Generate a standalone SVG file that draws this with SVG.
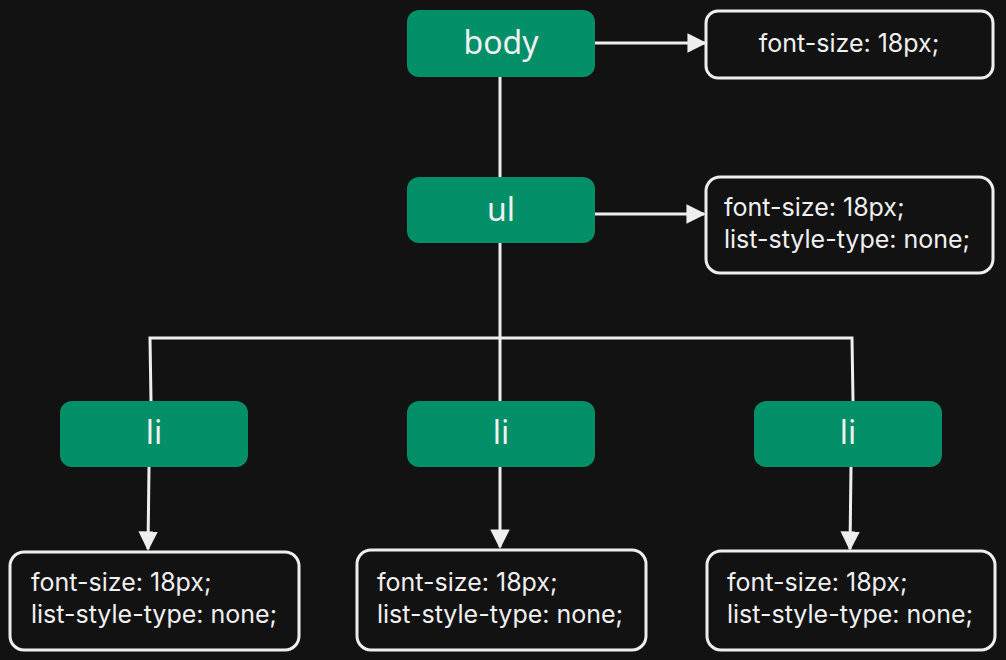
<svg xmlns="http://www.w3.org/2000/svg" width="1006" height="660" viewBox="0 0 1006 660">
<defs>
<style>
.node rect{fill:#038f67;}
.node text{fill:#f0f0f0;font-family:"Noto Sans","Noto Sans CJK KR",sans-serif;font-size:32px;text-anchor:middle;}
.prop rect{fill:#121212;stroke:#eeeeee;stroke-width:3;}
.prop text{fill:#f0f0f0;font-family:Inter,"Noto Sans",sans-serif;font-size:25px;}
.edges path{fill:none;stroke:#eeeeee;stroke-width:3;}
</style>
<marker id="arr" viewBox="0 0 10 10" refX="9" refY="5" markerWidth="6.5" markerHeight="6.5" markerUnits="strokeWidth" orient="auto">
<path d="M0,0 L10,5 L0,10 z" fill="#eeeeee"/>
</marker>
</defs>
<rect width="1006" height="660" fill="#121212"/>
<g class="edges">
<path d="M595,43 H705" marker-end="url(#arr)"/>
<path d="M500,77 V177"/>
<path d="M595,214 H704" marker-end="url(#arr)"/>
<path d="M500,243 V401"/>
<path d="M151,401 L150,338 H852 L853,401"/>
<path d="M149,467 L148,549" marker-end="url(#arr)"/>
<path d="M500,467 V547" marker-end="url(#arr)"/>
<path d="M851,467 L850,549" marker-end="url(#arr)"/>
</g>
<g id="body" class="node"><rect x="407" y="10" width="188" height="67" rx="12"/><text x="501" y="54">body</text></g>
<g id="ul" class="node"><rect x="407" y="177" width="188" height="66" rx="12"/><text x="501" y="221">ul</text></g>
<g id="li1" class="node"><rect x="60" y="401" width="188" height="66" rx="12"/><text x="154" y="444">li</text></g>
<g id="li2" class="node"><rect x="407" y="401" width="188" height="66" rx="12"/><text x="501" y="444">li</text></g>
<g id="li3" class="node"><rect x="754" y="401" width="188" height="66" rx="12"/><text x="848" y="444">li</text></g>
<g id="p-body" class="prop"><rect x="706" y="11" width="287" height="67" rx="12"/><text x="849" y="52" text-anchor="middle">font-size: 18px;</text></g>
<g id="p-ul" class="prop"><rect x="706" y="177" width="287" height="96" rx="14"/><text x="724" y="216">font-size: 18px;</text><text x="724" y="248">list-style-type: none;</text></g>
<g id="p-li1" class="prop"><rect x="10" y="552" width="289" height="98" rx="14"/><text x="31" y="591">font-size: 18px;</text><text x="31" y="623">list-style-type: none;</text></g>
<g id="p-li2" class="prop"><rect x="357" y="550" width="289" height="100" rx="14"/><text x="377" y="591">font-size: 18px;</text><text x="377" y="623">list-style-type: none;</text></g>
<g id="p-li3" class="prop"><rect x="707" y="551" width="288" height="99" rx="14"/><text x="727" y="591">font-size: 18px;</text><text x="727" y="623">list-style-type: none;</text></g>
</svg>
